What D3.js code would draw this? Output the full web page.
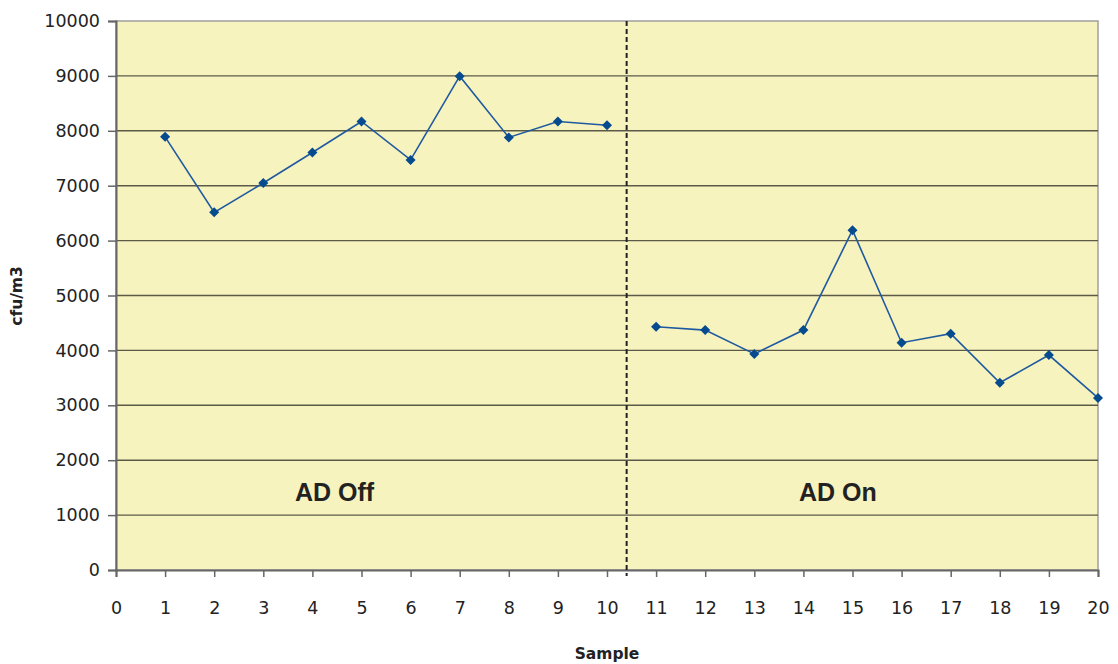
<!DOCTYPE html>
<html><head><meta charset="utf-8">
<script src="https://cdn.jsdelivr.net/npm/d3@7"></script>
<style>body{margin:0;background:#fff}svg{display:block}</style>
</head><body>
<svg id="c" width="1118" height="664"></svg>
<script>
const samples = [1,2,3,4,5,6,7,8,9,10,11,12,13,14,15,16,17,18,19,20];
const cfu = [7890,6515,7050,7605,8170,7470,8995,7880,8170,8100,4430,4370,3935,4370,6190,4140,4305,3410,3915,3135];
const xTicks = d3.range(0,21);
const yTicks = d3.range(0,10001,1000);
const divider = 10.4;
const regionLabels = [{text:"AD Off", x:4.45, y:1250},{text:"AD On", x:14.7, y:1250}];

const svg = d3.select("#c");
const L=116, R=1098, T=21, B=570;
const x = d3.scaleLinear().domain([0,20]).range([L,R]);
const y = d3.scaleLinear().domain([0,10000]).range([B,T]);

svg.append("rect").attr("x",L).attr("y",T).attr("width",R-L).attr("height",B-T)
  .attr("fill","#f7f3be").attr("stroke","#a0a0a0").attr("stroke-width",1.5);

svg.append("g").selectAll("line").data(yTicks.filter(d=>d>0&&d<10000)).join("line")
  .attr("x1",L).attr("x2",R).attr("y1",d=>y(d)).attr("y2",d=>y(d))
  .attr("stroke","#5b5a48").attr("stroke-width",1.4);

const yAxis = svg.append("g").attr("transform",`translate(${L},0)`)
  .call(d3.axisLeft(y).tickValues(yTicks).tickSize(8).tickPadding(8).tickFormat(d3.format("d")));
yAxis.select(".domain").attr("stroke","#666").attr("stroke-width",2);
yAxis.selectAll(".tick line").attr("stroke","#666").attr("stroke-width",1.5);
yAxis.selectAll("text").attr("font-family","DejaVu Sans").attr("font-size",17.5).attr("fill","#222");

const xAxis = svg.append("g").attr("transform",`translate(0,${B})`)
  .call(d3.axisBottom(x).tickValues(xTicks).tickSize(7).tickPadding(25).tickFormat(d3.format("d")));
xAxis.select(".domain").attr("stroke","#666").attr("stroke-width",2);
xAxis.selectAll(".tick line").attr("stroke","#666").attr("stroke-width",1.5);
xAxis.selectAll("text").attr("font-family","DejaVu Sans").attr("font-size",17.5).attr("fill","#222");

svg.append("line").attr("x1",x(divider)).attr("x2",x(divider)).attr("y1",T).attr("y2",B+6)
  .attr("stroke","#222").attr("stroke-width",2).attr("stroke-dasharray","5,3");

const line = d3.line().x((d,i)=>x(samples[i])).y(d=>y(d));
svg.append("path").attr("d",line(cfu.slice(0,10))).attr("fill","none").attr("stroke","#1f5aa0").attr("stroke-width",1.6);
svg.append("path").attr("d",line.x((d,i)=>x(samples[i+10]))(cfu.slice(10))).attr("fill","none").attr("stroke","#1f5aa0").attr("stroke-width",1.6);

svg.append("g").selectAll("path").data(cfu).join("path")
  .attr("d",d3.symbol(d3.symbolDiamond2,64))
  .attr("transform",(d,i)=>`translate(${x(samples[i])},${y(d)})`)
  .attr("fill","#064b8e");

svg.append("g").selectAll("text").data(regionLabels).join("text")
  .attr("x",d=>x(d.x)).attr("y",d=>y(d.y)).attr("text-anchor","middle")
  .style("font-family","'Liberation Sans', Arial, sans-serif").attr("font-weight","bold").attr("font-size",25)
  .attr("fill","#222").text(d=>d.text);

svg.append("text").attr("x",607).attr("y",659).attr("text-anchor","middle")
  .attr("font-family","DejaVu Sans").attr("font-weight","bold").attr("font-size",15.5).attr("fill","#222").text("Sample");
svg.append("text").attr("transform","translate(22,296) rotate(-90)").attr("text-anchor","middle")
  .attr("font-family","DejaVu Sans").attr("font-weight","bold").attr("font-size",15.5).attr("fill","#222").text("cfu/m3");
</script>
</body></html>
